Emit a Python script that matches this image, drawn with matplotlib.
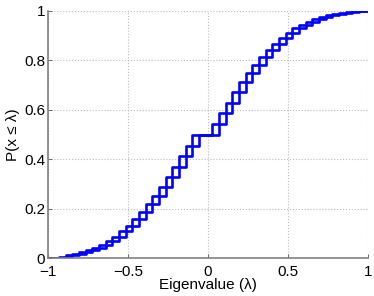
import numpy as np
import matplotlib
matplotlib.use("Agg")
from matplotlib import pyplot as plt

# cumulative histogram of the eigenvalues, bin edges every 1/12
edges_a = [-1.013, -0.929, -0.846, -0.763, -0.679, -0.596, -0.513, -0.429, -0.346,
           -0.263, -0.179, -0.096, -0.013, 0.071, 0.154, 0.238, 0.321, 0.404,
           0.488, 0.571, 0.654, 0.738, 0.821, 0.904, 0.988, 1.071]
cdf_a = [0.001, 0.007, 0.018, 0.033, 0.055, 0.088, 0.132, 0.187, 0.252,
         0.328, 0.412, 0.5, 0.5, 0.588, 0.672, 0.748, 0.813, 0.868,
         0.912, 0.945, 0.967, 0.982, 0.993, 0.999, 1.0, 1.0]

# same eigenvalues, bin edges shifted by half a bin
edges_b = [-1.013, -0.971, -0.888, -0.804, -0.721, -0.638, -0.554, -0.471, -0.388,
           -0.304, -0.221, -0.138, -0.054, 0.029, 0.113, 0.196, 0.279, 0.363,
           0.446, 0.529, 0.613, 0.696, 0.779, 0.863, 0.946, 1.029]
cdf_b = [0.0, 0.003, 0.012, 0.025, 0.043, 0.07, 0.109, 0.158, 0.218,
         0.288, 0.37, 0.455, 0.5, 0.545, 0.63, 0.712, 0.782, 0.842,
         0.891, 0.93, 0.957, 0.975, 0.988, 0.997, 1.0, 1.0]

xticks = [-1, -0.5, 0, 0.5, 1]
xticklabels = ["\u22121", "\u22120.5", "0", "0.5", "1"]
yticks = [0, 0.2, 0.4, 0.6, 0.8, 1]
yticklabels = ["0", "0.2", "0.4", "0.6", "0.8", "1"]

plt.rcParams["font.family"] = ["Liberation Sans", "DejaVu Sans"]
plt.rcParams["font.size"] = 11

fig = plt.figure(figsize=(3.74, 2.96), dpi=100)
ax = fig.add_axes([0.128, 0.127, 0.855, 0.836])

ax.plot(edges_a, cdf_a, drawstyle="steps-post", color="#0000ff", lw=1.9)
ax.plot(edges_b, cdf_b, drawstyle="steps-post", color="#0000ff", lw=1.9)

ax.set_xlim(-1, 1)
ax.set_ylim(0, 1)
ax.set_xticks(xticks)
ax.set_xticklabels(xticklabels)
ax.set_yticks(yticks)
ax.set_yticklabels(yticklabels)
ax.tick_params(direction="in", length=3, width=0.6, color="#555555")
ax.tick_params(axis="x", pad=5)
ax.tick_params(axis="y", pad=2)
ax.grid(True, linestyle=":", color="#bbbbbb", lw=0.8)
for s in ["top", "right"]:
    ax.spines[s].set_visible(False)
for s in ["left", "bottom"]:
    ax.spines[s].set_color("#808080")
    ax.spines[s].set_linewidth(1.2)

ax.set_xlabel("Eigenvalue (\u03bb)", labelpad=-1)
ax.set_ylabel("P(x \u2264 \u03bb)", labelpad=3)

fig.savefig("out.png", dpi=100)
